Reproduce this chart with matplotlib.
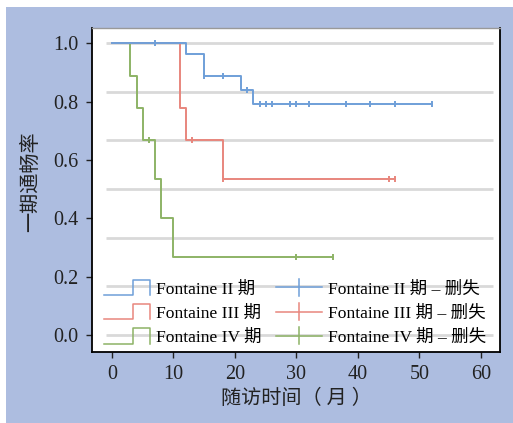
import numpy as np
import matplotlib
matplotlib.use('Agg')
import matplotlib.pyplot as plt
from matplotlib.lines import Line2D
from matplotlib.legend_handler import HandlerBase
from matplotlib.patches import Rectangle

plt.rcParams['font.family'] = ['Liberation Serif', 'Noto Sans CJK SC']

# 生存曲线: 时间点 / 通畅率 / 删失时间
t_ii = [0, 12, 15, 21, 23, 52]
s_ii = [1.0, 0.962, 0.889, 0.840, 0.792, 0.792]
c_ii = [7, 15, 18, 22, 24, 25, 26, 29, 30, 32, 38, 42, 46, 52]

t_iii = [0, 11, 12, 18, 46]
s_iii = [1.0, 0.778, 0.667, 0.533, 0.533]
c_iii = [13, 18, 45, 46]

t_iv = [0, 3, 4, 5, 7, 8, 10, 36]
s_iv = [1.0, 0.889, 0.778, 0.667, 0.533, 0.400, 0.267, 0.267]
c_iv = [6, 30, 36]

groups = ['Fontaine II 期', 'Fontaine III 期', 'Fontaine IV 期']
colors = ['#6f9fd8', '#e8867d', '#8db366']
x_ticks = [0, 10, 20, 30, 40, 50, 60]
y_ticks = [0.0, 0.2, 0.4, 0.6, 0.8, 1.0]


class StepHandler(HandlerBase):
    def create_artists(self, legend, orig_handle, xdescent, ydescent,
                       width, height, fontsize, trans):
        x0, x1 = -xdescent, -xdescent + width
        xm = x0 + 0.64 * width
        yc = height / 2 - ydescent
        h = 0.45 * fontsize
        ln = Line2D([x0, xm, xm, x1, x1], [yc - h, yc - h, yc + h, yc + h, yc - h],
                    color=orig_handle.get_color(), lw=orig_handle.get_linewidth())
        ln.set_transform(trans)
        return [ln]


class CensorHandler(HandlerBase):
    def create_artists(self, legend, orig_handle, xdescent, ydescent,
                       width, height, fontsize, trans):
        x0, x1 = -xdescent, -xdescent + width
        xm = x0 + 0.5 * width
        yc = height / 2 - ydescent
        h = 0.47 * fontsize
        c = orig_handle.get_color()
        lw = orig_handle.get_linewidth()
        a = Line2D([x0, x1], [yc, yc], color=c, lw=lw)
        b = Line2D([xm, xm], [yc - h, yc + h], color=c, lw=lw)
        a.set_transform(trans)
        b.set_transform(trans)
        return [a, b]


fig = plt.figure(figsize=(5.13, 4.23), dpi=100, facecolor='white')
fig.patches.append(Rectangle((6 / 513, 0), 1, 1 - 7 / 423, transform=fig.transFigure,
                             facecolor='#adbde0', edgecolor='none', zorder=-10))
ax = fig.add_axes([92 / 513, 71 / 423, 408 / 513, 324 / 423])

# 背景横线
for g in np.arange(7) / 6:
    ax.plot([-1, 62], [g, g], color='#d9d9d9', lw=2, zorder=1, solid_capstyle='butt')

curves = [(t_ii, s_ii, c_ii), (t_iii, s_iii, c_iii), (t_iv, s_iv, c_iv)]
step_handles, cens_handles = [], []
for i in [2, 1, 0]:
    t, s, c = curves[i]
    ax.step(t, s, where='post', color=colors[i], lw=1.4, zorder=3 + (2 - i))
    idx = np.searchsorted(t, c, side='right') - 1
    ax.plot(c, np.array(s)[idx], ls='none', marker='|', ms=5, mew=1.4,
            color=colors[i], zorder=3 + (2 - i))
for i in range(3):
    step_handles.append(Line2D([], [], color=colors[i], lw=1.1))
    cens_handles.append(Line2D([], [], color=colors[i], lw=1.1))

handles = step_handles + cens_handles
labels = groups + [g + ' – 删失' for g in groups]
hmap = {h: StepHandler() for h in step_handles}
hmap.update({h: CensorHandler() for h in cens_handles})
ax.legend(handles, labels, handler_map=hmap, ncol=2, frameon=False, fontsize=12.6,
          loc='lower left', bbox_to_anchor=(0.017, 0.003), borderpad=0.3,
          handlelength=2.6, handletextpad=0.36, columnspacing=0.85,
          labelspacing=0.45, borderaxespad=0)

ax.set_xlim(-3.25, 63.1)
ax.set_ylim(-0.058, 1.052)
ax.set_xticks(x_ticks)
ax.set_yticks(y_ticks)
ax.set_yticklabels([f'{v:.1f}' for v in y_ticks])
ax.tick_params(direction='out', length=4.5, width=1, labelsize=14.5, pad=5, colors='#222222')
for sp in ['left', 'bottom', 'right']:
    ax.spines[sp].set_color('black')
    ax.spines[sp].set_linewidth(1.3)
ax.spines['top'].set_color('#999999')
ax.spines['top'].set_linewidth(1)

ax.set_xlabel('随访时间（ 月 ）', fontsize=14.5, color='#222222', labelpad=4)
ax.set_ylabel('一期通畅率', fontsize=14.5, color='#222222')
ax.yaxis.set_label_coords(-0.125, 0.525)

fig.savefig('out.png', dpi=100, facecolor=fig.get_facecolor())
